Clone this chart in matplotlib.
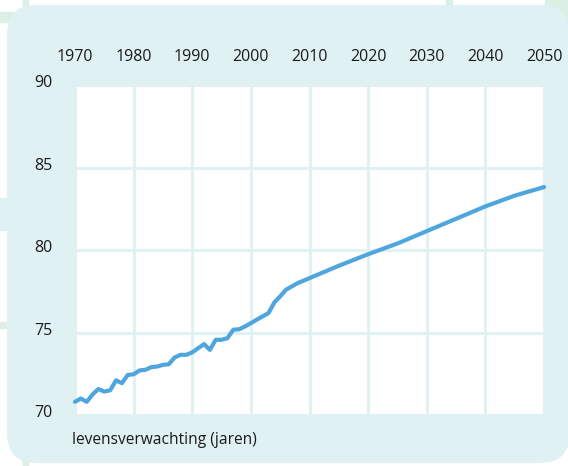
import matplotlib
matplotlib.use("Agg")
import matplotlib.pyplot as plt
from matplotlib.patches import FancyBboxPatch, Rectangle
from matplotlib.transforms import ScaledTranslation

plt.rcParams['font.family'] = ['Open Sans', 'DejaVu Sans']

# gemeten jaren, daarna prognose
years = [1970, 1971, 1972, 1973, 1974, 1975, 1976, 1977, 1978, 1979,
         1980, 1981, 1982, 1983, 1984, 1985, 1986, 1987, 1988, 1989,
         1990, 1991, 1992, 1993, 1994, 1995, 1996, 1997, 1998, 1999,
         2000, 2001, 2002, 2003, 2004, 2005, 2006, 2007, 2008,
         2010, 2015, 2020, 2025, 2030, 2035, 2040, 2045, 2050]
life_exp = [70.8, 71.0, 70.8, 71.25, 71.58, 71.42, 71.5, 72.1, 71.93, 72.43,
            72.47, 72.7, 72.74, 72.9, 72.94, 73.04, 73.08, 73.49, 73.65, 73.65,
            73.8, 74.05, 74.3, 73.95, 74.56, 74.56, 74.66, 75.17, 75.2, 75.37,
            75.57, 75.78, 75.98, 76.18, 76.83, 77.2, 77.6, 77.8, 78.0,
            78.3, 79.05, 79.75, 80.4, 81.15, 81.9, 82.65, 83.3, 83.82]
xticks = [1970, 1980, 1990, 2000, 2010, 2020, 2030, 2040, 2050]
yticks = [70, 75, 80, 85, 90]

bg = '#dff1f3'
green = '#dcefe4'
blue = '#4fa6dd'

fig = plt.figure(figsize=(5.68, 4.66), dpi=100)
fig.patch.set_facecolor('white')

# achtergrond versiering
def deco(x, y, w, h, c):
    fig.patches.append(Rectangle((x, y), w, h, transform=fig.transFigure,
                                 color=c, zorder=-3))

deco(0, 0.953, 0.05, 0.022, green)
deco(0.04, 0.953, 0.01, 0.047, green)
deco(0.785, 0.97, 0.01, 0.03, green)
deco(0.96, 0.93, 0.04, 0.07, green)
deco(0, 0.296, 0.02, 0.013, green)
deco(0.04, 0, 0.01, 0.02, green)
deco(0, 0.506, 0.02, 0.069, bg)
fig.patches.append(FancyBboxPatch((0.0123, 0.0064), 0.991, 0.983,
                                  boxstyle="round,pad=0,rounding_size=0.053",
                                  mutation_aspect=1.22,
                                  transform=fig.transFigure, facecolor=bg,
                                  edgecolor='none', zorder=-2))

ax = fig.add_axes([0.132, 0.1094, 0.826, 0.708])
ax.set_facecolor('white')
ax.plot(years, life_exp, color=blue, lw=3.0, solid_capstyle='round',
        solid_joinstyle='round', zorder=3, clip_on=False)

ax.set_xlim(1970, 2050)
ax.set_ylim(70, 90)
ax.set_xticks(xticks)
ax.set_yticks(yticks)
ax.xaxis.tick_top()
ax.tick_params(axis='both', length=0, labelsize=11.5, colors='#1a1a1a')
ax.tick_params(axis='x', pad=14.5)
ax.tick_params(axis='y', pad=16)
ax.grid(True, color=bg, lw=2.2)
ax.set_axisbelow(True)
for s in ax.spines.values():
    s.set_visible(False)

# y-labels staan iets boven de lijn
shift = ScaledTranslation(0, 4 / 100, fig.dpi_scale_trans)
for lab in ax.get_yticklabels():
    lab.set_transform(lab.get_transform() + shift)

fig.text(0.127, 0.055, 'levensverwachting (jaren)', fontsize=11.2, color='#1a1a1a',
         ha='left', va='center')

fig.savefig('out.png', dpi=100)
